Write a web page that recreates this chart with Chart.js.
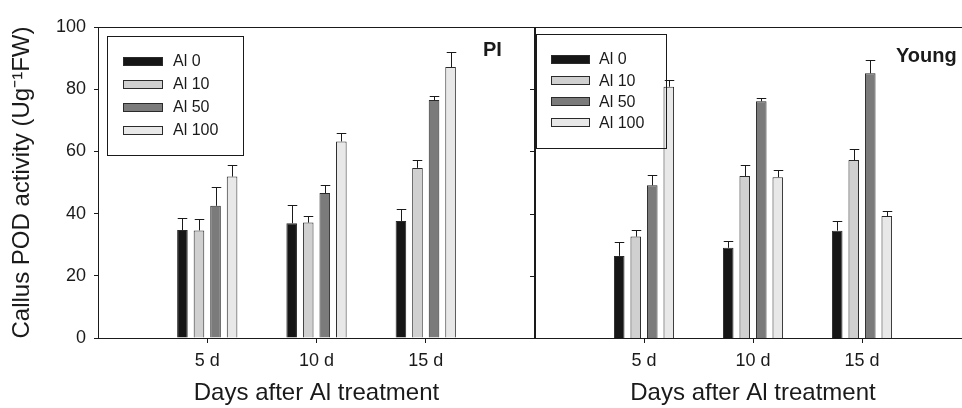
<!DOCTYPE html>
<html>
<head>
<meta charset="utf-8">
<title>Callus POD activity</title>
<script src="https://cdn.jsdelivr.net/npm/chart.js@4.4.0/dist/chart.umd.min.js"></script>
<style>
  body { margin: 0; background: #fff; }
  #wrap { position: relative; width: 962px; height: 408px; overflow: hidden; }
  #plChart { position: absolute; left: 0; top: 0; }
  #youngChart { position: absolute; left: 535px; top: 0; }
</style>
</head>
<body>
<div id="wrap">
  <canvas id="plChart" width="536" height="408"></canvas>
  <canvas id="youngChart" width="440" height="408"></canvas>
</div>
<script>
// data
var categories = ['5 d', '10 d', '15 d'];
var seriesNames = ['Al 0', 'Al 10', 'Al 50', 'Al 100'];
var yTicks = [0, 20, 40, 60, 80, 100];

var plAl0 = [34.7, 36.9, 37.6];
var plAl10 = [34.6, 37.1, 54.7];
var plAl50 = [42.5, 46.6, 76.5];
var plAl100 = [51.9, 63.2, 87.1];
var plAl0Err = [3.9, 5.9, 3.8];
var plAl10Err = [3.6, 2.2, 2.4];
var plAl50Err = [6.0, 2.6, 1.2];
var plAl100Err = [3.6, 2.8, 4.8];

var youngAl0 = [26.4, 29.0, 34.5];
var youngAl10 = [32.6, 52.1, 57.2];
var youngAl50 = [49.1, 76.1, 85.1];
var youngAl100 = [80.8, 51.7, 39.2];
var youngAl0Err = [4.5, 2.3, 3.0];
var youngAl10Err = [2.1, 3.4, 3.5];
var youngAl50Err = [3.4, 1.2, 4.4];
var youngAl100Err = [2.2, 2.4, 1.7];

var barColors = ['#161616', '#d0d0d0', '#7b7b7b', '#e8e8e8'];
var FONT = "'Liberation Sans', Arial, Helvetica, sans-serif";

Chart.defaults.font.family = FONT;
Chart.defaults.color = '#1a1a1a';

// empty slot on each side so the groups sit at 1/4, 2/4, 3/4 of the panel
var labels = [''].concat(categories, ['']);
function pad(arr) { return [null].concat(arr, [null]); }

var errorBarPlugin = {
  id: 'errorBars',
  afterDatasetsDraw: function (chart) {
    var ctx = chart.ctx;
    var yScale = chart.scales.y;
    ctx.save();
    ctx.strokeStyle = '#1a1a1a';
    ctx.lineWidth = 1;
    chart.data.datasets.forEach(function (ds, i) {
      var meta = chart.getDatasetMeta(i);
      meta.data.forEach(function (bar, j) {
        var v = ds.data[j];
        var e = ds.errors[j];
        if (v == null || e == null) return;
        var x = Math.round(bar.x) + 0.5;
        var yTop = Math.round(yScale.getPixelForValue(v + e)) + 0.5;
        var half = bar.width * 0.45;
        ctx.beginPath();
        ctx.moveTo(x, bar.y);
        ctx.lineTo(x, yTop);
        ctx.moveTo(x - half, yTop);
        ctx.lineTo(x + half, yTop);
        ctx.stroke();
      });
    });
    ctx.restore();
  }
};

var framePlugin = {
  id: 'frame',
  afterDraw: function (chart, args, opts) {
    var a = chart.chartArea;
    var ctx = chart.ctx;
    ctx.save();
    ctx.strokeStyle = '#1a1a1a';
    ctx.lineWidth = 1;
    ctx.strokeRect(a.left + 0.5, a.top + 0.5, a.right - a.left - 1, a.bottom - a.top);
    if (opts.rightTicks) {
      ctx.beginPath();
      yTicks.forEach(function (v) {
        var y = Math.round(chart.scales.y.getPixelForValue(v)) + 0.5;
        ctx.moveTo(a.right - 5, y);
        ctx.lineTo(a.right, y);
      });
      ctx.stroke();
    }
    // panel name
    ctx.fillStyle = '#1a1a1a';
    ctx.font = 'bold 20px ' + FONT;
    ctx.textBaseline = 'middle';
    ctx.textAlign = 'left';
    ctx.fillText(opts.label, a.left + opts.labelX, a.top + opts.labelY);

    // legend box
    var lg = opts.legend;
    ctx.strokeRect(a.left + lg.x + 0.5, a.top + lg.y + 0.5, lg.w, lg.h);
    ctx.font = '16px ' + FONT;
    chart.data.datasets.forEach(function (ds, i) {
      var cy = a.top + lg.row0 + i * lg.gap;
      var sx = a.left + lg.swatchX;
      ctx.fillStyle = ds.backgroundColor;
      ctx.fillRect(sx, Math.round(cy - 4.5), lg.swatchW, 9);
      ctx.strokeStyle = '#2a2a2a';
      ctx.strokeRect(sx + 0.5, Math.round(cy - 4.5) + 0.5, lg.swatchW - 1, 8);
      ctx.fillStyle = '#1a1a1a';
      ctx.fillText(ds.label, a.left + lg.textX, cy + 1);
    });
    ctx.restore();
  }
};

function makeDatasets(means, errs) {
  return seriesNames.map(function (name, i) {
    return {
      label: name,
      data: pad(means[i]),
      errors: pad(errs[i]),
      backgroundColor: barColors[i],
      borderColor: '#2a2a2a',
      borderWidth: 1,
      categoryPercentage: 0.606,
      barPercentage: 0.64
    };
  });
}

function makeChart(id, means, errs, showY, frameOpts, padRight) {
  return new Chart(document.getElementById(id), {
    type: 'bar',
    data: { labels: labels, datasets: makeDatasets(means, errs) },
    plugins: [errorBarPlugin, framePlugin],
    options: {
      responsive: false,
      animation: false,
      devicePixelRatio: 1,
      layout: { padding: { top: 27, right: padRight, left: 0, bottom: 0 } },
      plugins: {
        legend: { display: false },
        tooltip: { enabled: false },
        frame: frameOpts
      },
      scales: {
        x: {
          type: 'category',
          offset: false,
          afterFit: function (scale) {
            scale.height = 70;
            scale.paddingLeft = 0;
            scale.paddingRight = 0;
          },
          border: { display: true, color: '#1a1a1a', width: 1 },
          grid: {
            offset: false,
            drawOnChartArea: false,
            drawTicks: true,
            tickLength: 5,
            tickColor: function (c) { return labels[c.index] ? '#1a1a1a' : 'rgba(0,0,0,0)'; }
          },
          ticks: { font: { size: 18 }, padding: 7, maxRotation: 0, autoSkip: false },
          title: {
            display: true,
            text: 'Days after Al treatment',
            font: { size: 24 },
            padding: { top: 0, bottom: 0 }
          }
        },
        y: {
          display: showY,
          min: 0,
          max: 100,
          afterFit: function (scale) { scale.width = showY ? 98 : 0; },
          afterBuildTicks: function (scale) {
            scale.ticks = yTicks.map(function (v) { return { value: v }; });
          },
          border: { display: true, color: '#1a1a1a', width: 1 },
          grid: { drawOnChartArea: false, drawTicks: true, tickLength: 4, tickColor: '#1a1a1a' },
          ticks: { font: { size: 18 }, padding: 8 },
          title: {
            display: true,
            text: 'Callus POD activity (Ug\u207B\u00B9FW)',
            font: { size: 24 },
            padding: { top: 8, bottom: 0 }
          }
        }
      }
    }
  });
}

makeChart('plChart',
  [plAl0, plAl10, plAl50, plAl100],
  [plAl0Err, plAl10Err, plAl50Err, plAl100Err],
  true,
  {
    rightTicks: true, label: 'PI', labelX: 385, labelY: 23,
    legend: { x: 9, y: 9, w: 136, h: 119, swatchX: 25, swatchW: 40, textX: 75, row0: 34, gap: 23 }
  },
  1);

makeChart('youngChart',
  [youngAl0, youngAl10, youngAl50, youngAl100],
  [youngAl0Err, youngAl10Err, youngAl50Err, youngAl100Err],
  false,
  {
    rightTicks: false, label: 'Young', labelX: 361, labelY: 29,
    legend: { x: 1, y: 7, w: 130, h: 114, swatchX: 16, swatchW: 39, textX: 64, row0: 32, gap: 21.3 }
  },
  4);
</script>
</body>
</html>
